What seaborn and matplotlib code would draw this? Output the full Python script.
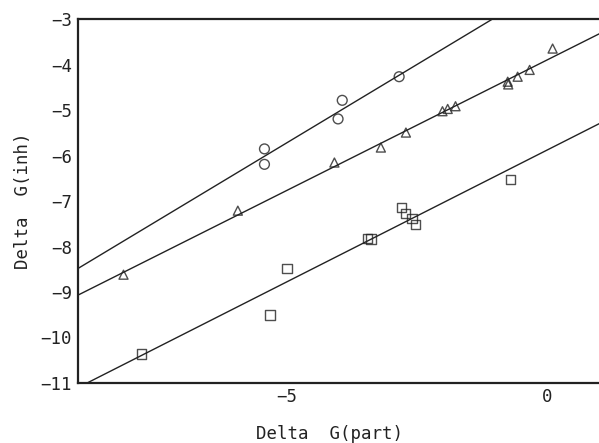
import numpy as np
import pandas as pd
import matplotlib
matplotlib.use("Agg")
import matplotlib.pyplot as plt
import seaborn as sns

# valores
circ_x = [-5.42, -5.42, -3.93, -4.01, -2.84]
circ_y = [-5.85, -6.19, -4.78, -5.19, -4.26]

tri_x = [-8.12, -5.93, -4.08, -3.19, -2.71, -2.01, -1.91, -1.76, -0.76, -0.75, -0.57, -0.34, 0.10]
tri_y = [-8.62, -7.21, -6.15, -5.82, -5.49, -5.02, -4.97, -4.91, -4.37, -4.43, -4.26, -4.11, -3.64]

sq_x = [-7.78, -5.31, -4.99, -3.45, -3.38, -2.80, -2.72, -2.59, -2.53, -0.71]
sq_y = [-10.37, -9.51, -8.48, -7.82, -7.83, -7.14, -7.27, -7.38, -7.51, -6.52]

x_ticks = [-5, 0]
y_ticks = [-3, -4, -5, -6, -7, -8, -9, -10, -11]

sns.set_style("white")
plt.rcParams['font.family'] = ['DejaVu Sans Mono']

cor = '#222222'
fig = plt.figure(figsize=(5.99, 4.43), dpi=100)
ax = fig.add_axes([0.1295, 0.136, 0.8715, 0.820])
ax.set_xlim(-9, 1)
ax.set_ylim(-11, -3)

grupos = [
    (circ_x, circ_y, 'o', 50),
    (tri_x, tri_y, '^', 42),
    (sq_x, sq_y, 's', 46),
]
for gx, gy, m, s in grupos:
    df = pd.DataFrame({'x': gx, 'y': gy})
    sns.regplot(data=df, x='x', y='y', ax=ax, ci=None, truncate=False,
                marker=m,
                scatter_kws={'s': s, 'facecolors': 'none', 'edgecolors': cor,
                             'linewidths': 1.0, 'zorder': 3},
                line_kws={'color': cor, 'linewidth': 1.0, 'zorder': 2})

ax.set_xlim(-9, 1)
ax.set_ylim(-11, -3)
ax.set_xticks(x_ticks)
ax.set_yticks(y_ticks)
ax.tick_params(direction='in', length=6, width=1.2, colors=cor, labelsize=12.5, pad=4)
for lado in ['left', 'bottom', 'top']:
    ax.spines[lado].set_color(cor)
    ax.spines[lado].set_linewidth(1.6)
ax.spines['right'].set_visible(False)

ax.set_xlabel('Delta  G(part)', fontsize=12.5, color=cor)
ax.set_ylabel('Delta  G(inh)', fontsize=12.5, color=cor)
ax.xaxis.set_label_coords(0.483, -0.115)
ax.yaxis.set_label_coords(-0.088, 0.5)

fig.savefig('out.png', dpi=100)
